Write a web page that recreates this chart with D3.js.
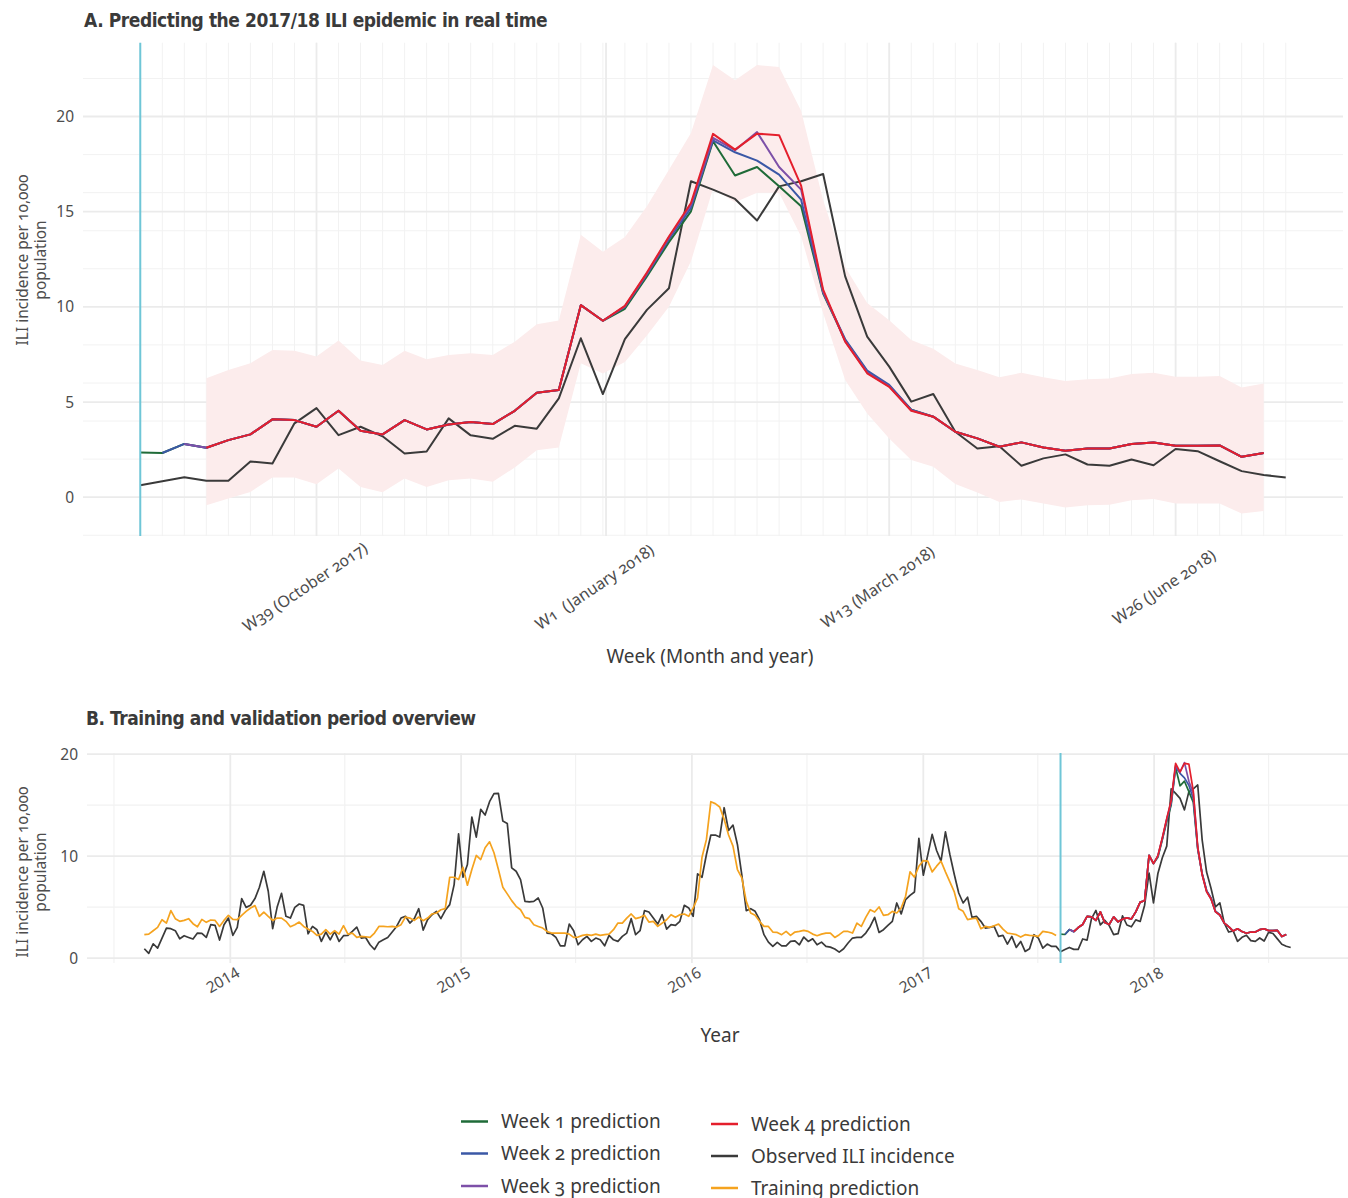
<!DOCTYPE html>
<html>
<head>
<meta charset="utf-8">
<script src="https://cdn.jsdelivr.net/npm/d3@7"></script>
<style>
  body { margin: 0; background: #fff; }
  svg text { font-family: "Noto Sans", "Open Sans", sans-serif; }
  .title { font-family: "Liberation Sans Narrow", "DejaVu Sans Condensed", sans-serif; font-weight: bold; font-size: 19px; letter-spacing: -0.45px; fill: #3a3a3a; }
  .onum { font-variant-numeric: oldstyle-nums; }
</style>
</head>
<body>
<svg id="chart" width="1348" height="1198"></svg>
<script>
// ---- Weekly ILI incidence per 10,000 population ----
const trainingStart = "2013-08-18";   // first week of the training period
const forecastOrigin = "2017-08-06";  // first week predicted in real time

// Observed incidence, training period (weekly from trainingStart)
const observedTraining = [
  0.92, 0.46, 1.41, 0.98, 1.97, 2.95, 2.89, 2.69, 1.90, 2.20,
  2.03, 1.87, 2.46, 2.43, 2.03, 3.28, 3.21, 1.77, 3.28, 3.93,
  2.23, 3.02, 5.84, 4.98, 5.18, 5.84, 6.95, 8.52, 6.56, 2.89,
  4.98, 6.36, 4.10, 3.93, 4.98, 5.31, 5.18, 2.39, 3.11, 2.79,
  1.64, 2.56, 1.80, 2.62, 1.64, 2.20, 2.23, 2.62, 3.05, 1.97,
  2.03, 1.31, 0.85, 1.57, 1.80, 2.03, 2.56, 3.11, 3.93, 4.10,
  3.44, 3.87, 4.85, 2.75, 3.77, 4.26, 4.59, 3.87, 4.69,
  5.25, 7.21, 12.20, 7.93, 9.18, 13.84, 11.87, 14.59, 14.03, 15.34,
  16.13, 16.16, 13.44, 13.21, 8.85, 8.52, 7.70, 5.57, 5.51, 5.57,
  5.90, 4.92, 2.46, 2.39, 2.03, 1.21, 1.21, 3.34, 2.69, 1.31,
  1.80, 2.13, 1.64, 1.97, 1.80, 1.21, 2.23, 1.80, 1.64, 2.13,
  2.46, 3.87, 2.30, 2.69, 4.66, 4.52, 3.93, 3.34, 4.26, 2.85,
  3.28, 3.21, 3.61, 5.18, 4.92, 4.10, 8.26, 7.93, 10.16, 12.07,
  12.07, 11.87, 14.75, 12.52, 13.05, 11.15, 8.13, 4.66, 4.85,
  4.59, 3.77, 2.30, 1.57, 1.15, 1.54, 1.21, 1.21, 1.64, 1.70,
  1.31, 2.07, 1.64, 1.90, 1.31, 1.57, 1.15, 1.08, 0.89, 0.59,
  0.92, 1.48, 1.97, 2.03, 2.03, 2.46, 3.11, 4.00, 2.52, 2.79,
  3.21, 3.61, 5.41, 4.33, 5.74, 6.16, 6.49, 11.74, 8.13, 10.10,
  12.13, 10.56, 9.51, 12.39, 10.16, 8.20, 6.39, 5.41, 5.97, 4.00,
  4.10, 3.61, 2.95, 3.02, 3.11, 2.13, 2.23, 1.38, 2.13, 1.05,
  1.64, 0.66, 0.92, 2.30, 1.97, 0.98, 1.38, 1.15, 1.15
];

// Model fit over the training period (weekly from trainingStart)
const trainingPrediction = [
  2.30, 2.36, 2.69, 3.02, 3.77, 3.44, 4.66, 3.87, 3.61, 3.70,
  3.87, 3.38, 3.08, 3.80, 3.51, 3.74, 3.70, 3.11, 3.70, 4.20,
  3.80, 3.77, 4.20, 4.59, 4.92, 5.15, 4.10, 4.52, 4.10, 3.70,
  3.93, 3.93, 3.61, 3.08, 3.28, 3.54, 3.11, 2.85, 2.62, 2.23,
  2.36, 2.79, 2.36, 2.69, 2.36, 3.18, 2.36, 2.46, 2.03, 2.13,
  2.10, 2.03, 2.46, 3.11, 3.11, 3.08, 3.11, 3.05, 3.28, 4.03,
  3.93, 3.70, 4.03, 3.67, 3.93, 4.33, 4.43, 4.75, 4.85,
  7.93, 7.93, 7.70, 8.92, 7.15, 8.69, 10.07, 9.67, 10.82, 11.41,
  10.33, 8.69, 6.95, 6.30, 5.64, 5.08, 4.75, 4.00, 3.87, 3.28,
  3.11, 2.95, 2.62, 2.46, 2.46, 2.46, 2.46, 2.36, 2.03, 2.07,
  2.23, 2.30, 2.23, 2.36, 2.23, 2.30, 2.36, 2.79, 3.44, 3.44,
  3.93, 4.33, 3.87, 4.00, 4.20, 3.54, 3.61, 3.11, 3.44, 3.77,
  4.26, 4.00, 4.26, 4.33, 4.10, 4.92, 5.90, 9.90, 11.64, 15.34,
  15.15, 14.82, 13.61, 12.07, 10.98, 8.69, 7.87, 5.57, 4.43,
  4.20, 3.61, 3.11, 3.11, 2.56, 2.52, 2.30, 2.62, 2.23, 2.56,
  2.62, 2.72, 2.62, 2.36, 2.20, 2.36, 2.46, 2.46, 2.03, 2.30,
  2.62, 2.62, 2.46, 3.44, 3.11, 4.00, 4.75, 4.52, 5.02, 4.20,
  4.26, 4.59, 4.43, 4.92, 6.07, 8.46, 7.93, 9.02, 9.57, 9.51,
  8.46, 9.02, 9.51, 8.46, 7.48, 6.49, 4.85, 4.59, 3.77, 3.87,
  3.93, 2.89, 3.11, 3.02, 3.18, 3.34, 2.85, 2.46, 2.39, 2.30,
  2.07, 2.30, 2.23, 2.20, 2.13, 2.62, 2.56, 2.46, 2.23
];

// Observed incidence, 2017/18 season (weekly from forecastOrigin)
const observedSeason = [
  0.63, 0.84, 1.05, 0.86, 0.86, 1.88, 1.77, 3.88, 4.68, 3.26,
  3.70, 3.20, 2.30, 2.40, 4.14, 3.25, 3.07, 3.75, 3.60, 5.19,
  8.35, 5.42, 8.30, 9.84, 10.98, 16.60, 16.16, 15.67, 14.54, 16.33,
  16.60, 16.98, 11.60, 8.44, 6.86, 5.02, 5.42, 3.44, 2.56, 2.68,
  1.65, 2.04, 2.25, 1.72, 1.65, 1.98, 1.68, 2.53, 2.42, 1.89,
  1.37, 1.17, 1.04
];

// Real-time predictions, 1 to 4 weeks ahead (weekly from forecastOrigin)
const week1Prediction = [
  2.35, 2.32, 2.80, 2.60, 3.00, 3.30, 4.09, 4.05, 3.70, 4.54,
  3.49, 3.30, 4.05, 3.56, 3.82, 3.95, 3.84, 4.54, 5.49, 5.63,
  10.09, 9.27, 9.90, 11.60, 13.40, 15.02, 18.70, 16.90, 17.35, 16.33,
  15.28, 10.70, 8.25, 6.60, 5.85, 4.60, 4.23, 3.44, 3.09, 2.65,
  2.88, 2.61, 2.44, 2.56, 2.56, 2.79, 2.88, 2.70, 2.70, 2.72,
  2.12, 2.32
];
const week2Prediction = [
  null, 2.32, 2.80, 2.60, 3.00, 3.30, 4.09, 4.05, 3.70, 4.54,
  3.49, 3.30, 4.05, 3.56, 3.82, 3.95, 3.84, 4.54, 5.49, 5.63,
  10.09, 9.27, 10.00, 11.70, 13.55, 15.20, 18.75, 18.12, 17.68, 16.95,
  15.63, 10.75, 8.30, 6.65, 5.90, 4.60, 4.23, 3.44, 3.09, 2.65,
  2.88, 2.61, 2.44, 2.56, 2.56, 2.79, 2.88, 2.70, 2.70, 2.72,
  2.12, 2.32
];
const week3Prediction = [
  null, null, 2.80, 2.60, 3.00, 3.30, 4.09, 4.05, 3.70, 4.54,
  3.49, 3.30, 4.05, 3.56, 3.82, 3.95, 3.84, 4.54, 5.49, 5.63,
  10.09, 9.27, 10.03, 11.75, 13.65, 15.35, 18.88, 18.23, 19.18, 17.35,
  16.16, 10.80, 8.20, 6.55, 5.82, 4.56, 4.23, 3.44, 3.09, 2.65,
  2.88, 2.61, 2.44, 2.56, 2.56, 2.79, 2.88, 2.70, 2.70, 2.72,
  2.12, 2.32
];
const week4Prediction = [
  null, null, null, 2.60, 3.00, 3.30, 4.09, 4.05, 3.70, 4.54,
  3.49, 3.30, 4.05, 3.56, 3.82, 3.95, 3.84, 4.54, 5.49, 5.63,
  10.09, 9.27, 10.05, 11.80, 13.70, 15.46, 19.09, 18.26, 19.10, 19.02,
  16.37, 10.90, 8.17, 6.51, 5.80, 4.54, 4.23, 3.44, 3.09, 2.65,
  2.88, 2.61, 2.44, 2.56, 2.56, 2.79, 2.88, 2.70, 2.70, 2.72,
  2.12, 2.32
];

// Prediction interval of the 4-week-ahead forecast
const intervalLower = [
  null, null, null, -0.42, -0.07, 0.28, 1.04, 1.04, 0.68, 1.51,
  0.54, 0.26, 0.98, 0.54, 0.89, 0.98, 0.81, 1.56, 2.47, 2.61,
  7.04, 6.50, 7.10, 8.50, 10.00, 12.40, 16.20, 15.50, 16.00, 16.00,
  13.70, 9.67, 6.16, 4.40, 3.09, 1.95, 1.60, 0.70, 0.25, -0.25,
  -0.12, -0.33, -0.54, -0.42, -0.40, -0.16, -0.10, -0.33, -0.33, -0.33,
  -0.86, -0.72
];
const intervalUpper = [
  null, null, null, 6.25, 6.68, 7.04, 7.74, 7.70, 7.39, 8.23,
  7.18, 6.95, 7.70, 7.25, 7.47, 7.56, 7.47, 8.17, 9.09, 9.28,
  13.79, 12.90, 13.67, 15.28, 17.20, 19.14, 22.70, 21.90, 22.70, 22.60,
  20.30, 15.60, 12.10, 10.20, 9.30, 8.26, 7.80, 7.02, 6.68, 6.30,
  6.54, 6.30, 6.10, 6.20, 6.23, 6.47, 6.54, 6.33, 6.33, 6.37,
  5.77, 5.98
];

// Axis breaks and labels
const seasonTickDates = ["2017-10-01", "2018-01-01", "2018-04-01", "2018-07-01"];
const seasonTickLabels = ["W39 (October 2017)", "W1  (January 2018)", "W13 (March 2018)", "W26 (June 2018)"];
const yearTickDates = ["2014-01-01", "2015-01-01", "2016-01-01", "2017-01-01", "2018-01-01"];
const yearMinorDates = ["2013-07-01", "2014-07-01", "2015-07-01", "2016-07-01", "2017-07-01", "2018-07-01"];

// Series names and colours
const seriesNames = ["Week 1 prediction", "Week 2 prediction", "Week 3 prediction",
                     "Week 4 prediction", "Observed ILI incidence", "Training prediction"];
const seriesColors = ["#1f6b38", "#3b58a6", "#7d50a8", "#e41f2c", "#3a3a3a", "#f5a31f"];

// ---------------------------------------------------------------------------
const parse = d3.utcParse("%Y-%m-%d");
const weekly = (start, n) => d3.range(n).map(i => d3.utcDay.offset(parse(start), 7 * i));
const pair = (dates, values) => values.map((v, i) => ({ date: dates[i], v }));
const expand = (lo, hi, f = 0.05) => [lo - (hi - lo) * f, hi + (hi - lo) * f];

const svg = d3.select("#chart");
const gridMajor = "#ebebeb", gridMinor = "#f2f2f2";
const cutColor = "#6fc6d7";
const labelColor = "#4d4d4d";

const seasonDates = weekly(forecastOrigin, observedSeason.length);
const trainingDates = weekly(trainingStart, observedTraining.length);

const predictions = [week1Prediction, week2Prediction, week3Prediction, week4Prediction];

// ============================ Panel A ============================
const A = { left: 83, right: 1343, top: 42.7, bottom: 536 };
const dA = d3.extent(seasonDates);
const xA = d3.scaleUtc().domain(expand(+dA[0], +dA[1])).range([A.left, A.right]);
const yA = d3.scaleLinear()
  .domain(expand(d3.min(intervalLower), d3.max(intervalUpper)))
  .range([A.bottom, A.top]);

const gA = svg.append("g");

// grid
const yAMajor = [0, 5, 10, 15, 20];
const yAMinor = d3.ticks(yA.domain()[0], yA.domain()[1], 10).filter(v => !yAMajor.includes(v));
gA.append("g").selectAll("line").data(yAMinor).join("line")
  .attr("x1", A.left).attr("x2", A.right)
  .attr("y1", d => yA(d)).attr("y2", d => yA(d))
  .attr("stroke", gridMinor).attr("stroke-width", 1);
gA.append("g").selectAll("line").data(seasonDates).join("line")
  .attr("x1", d => xA(d)).attr("x2", d => xA(d))
  .attr("y1", A.top).attr("y2", A.bottom)
  .attr("stroke", gridMinor).attr("stroke-width", 1);
gA.append("g").selectAll("line").data(yAMajor).join("line")
  .attr("x1", A.left).attr("x2", A.right)
  .attr("y1", d => yA(d)).attr("y2", d => yA(d))
  .attr("stroke", gridMajor).attr("stroke-width", 1.8);
gA.append("g").selectAll("line").data(seasonTickDates.map(parse)).join("line")
  .attr("x1", d => xA(d)).attr("x2", d => xA(d))
  .attr("y1", A.top).attr("y2", A.bottom)
  .attr("stroke", gridMajor).attr("stroke-width", 1.8);

// prediction interval
const band = seasonDates.map((d, i) => ({ date: d, lo: intervalLower[i], hi: intervalUpper[i] }));
gA.append("path").datum(band)
  .attr("fill", "#fcecec")
  .attr("d", d3.area().defined(d => d.lo != null && d.hi != null)
    .x(d => xA(d.date)).y0(d => yA(d.lo)).y1(d => yA(d.hi)));

const lineA = d3.line().defined(d => d.v != null).x(d => xA(d.date)).y(d => yA(d.v));

// observed
gA.append("path").datum(pair(seasonDates, observedSeason))
  .attr("fill", "none").attr("stroke", seriesColors[4]).attr("stroke-width", 2)
  .attr("stroke-linejoin", "round").attr("d", lineA);

// predictions 1..4 weeks ahead
predictions.forEach((p, k) => {
  gA.append("path").datum(pair(seasonDates, p))
    .attr("fill", "none").attr("stroke", seriesColors[k]).attr("stroke-width", 2)
    .attr("stroke-linejoin", "round").attr("d", lineA);
});

// start of real-time forecasting
gA.append("line")
  .attr("x1", xA(parse(forecastOrigin))).attr("x2", xA(parse(forecastOrigin)))
  .attr("y1", A.top).attr("y2", A.bottom)
  .attr("stroke", cutColor).attr("stroke-width", 2);

// axes
const axAy = gA.append("g").attr("transform", `translate(${A.left},0)`)
  .call(d3.axisLeft(yA).tickValues(yAMajor).tickSize(0).tickPadding(9));
axAy.select(".domain").remove();
axAy.selectAll("text").attr("font-size", 15.5).attr("fill", labelColor)
  .style("font-family", "'Noto Sans', sans-serif");

const axAx = gA.append("g").attr("transform", `translate(0,${A.bottom})`)
  .call(d3.axisBottom(xA).tickValues(seasonTickDates.map(parse))
    .tickFormat((d, i) => seasonTickLabels[i]).tickSize(0));
axAx.select(".domain").remove();
axAx.selectAll("text")
  .attr("class", "onum")
  .attr("y", 0).attr("dy", "0.35em")
  .attr("text-anchor", "middle")
  .attr("transform", "translate(-12,51) rotate(-34)")
  .attr("font-size", 16).attr("fill", labelColor)
  .style("white-space", "pre")
  .style("font-family", "'Noto Sans', sans-serif");

svg.append("text").attr("class", "title").attr("x", 84).attr("y", 27)
  .text("A. Predicting the 2017/18 ILI epidemic in real time");

svg.append("text").attr("x", 710).attr("y", 663).attr("text-anchor", "middle")
  .attr("font-size", 19).attr("fill", "#3a3a3a").text("Week (Month and year)");

function yTitle(cy) {
  const t = svg.append("text").attr("class", "onum")
    .attr("transform", `translate(0,${cy}) rotate(-90)`)
    .attr("text-anchor", "middle").attr("font-size", 15.5).attr("fill", labelColor);
  t.append("tspan").attr("x", 0).attr("y", 28).text("ILI incidence per 10,000");
  t.append("tspan").attr("x", 0).attr("y", 46).text("population");
}
yTitle(260);

// ============================ Panel B ============================
const B = { left: 87, right: 1348, top: 753, bottom: 963 };
const allDates = trainingDates.concat(seasonDates);
const observedAll = observedTraining.concat(observedSeason);
const dB = d3.extent(allDates);
const xB = d3.scaleUtc().domain(expand(+dB[0], +dB[1])).range([B.left, B.right]);
const allB = observedAll.concat(trainingPrediction, ...predictions).filter(v => v != null);
const yB = d3.scaleLinear().domain(expand(d3.min(allB), d3.max(allB))).range([B.bottom, B.top]);

const gB = svg.append("g");
const yBMajor = [0, 10, 20];
const yBMinor = [5, 15];
gB.append("g").selectAll("line").data(yBMinor).join("line")
  .attr("x1", B.left).attr("x2", B.right)
  .attr("y1", d => yB(d)).attr("y2", d => yB(d))
  .attr("stroke", gridMinor).attr("stroke-width", 1.2);
gB.append("g").selectAll("line").data(yearMinorDates.map(parse)).join("line")
  .attr("x1", d => xB(d)).attr("x2", d => xB(d))
  .attr("y1", B.top).attr("y2", B.bottom)
  .attr("stroke", gridMinor).attr("stroke-width", 1.2);
gB.append("g").selectAll("line").data(yBMajor).join("line")
  .attr("x1", B.left).attr("x2", B.right)
  .attr("y1", d => yB(d)).attr("y2", d => yB(d))
  .attr("stroke", gridMajor).attr("stroke-width", 1.8);
gB.append("g").selectAll("line").data(yearTickDates.map(parse)).join("line")
  .attr("x1", d => xB(d)).attr("x2", d => xB(d))
  .attr("y1", B.top).attr("y2", B.bottom)
  .attr("stroke", gridMajor).attr("stroke-width", 1.8);

const lineB = d3.line().defined(d => d.v != null).x(d => xB(d.date)).y(d => yB(d.v));

gB.append("path").datum(pair(allDates, observedAll))
  .attr("fill", "none").attr("stroke", seriesColors[4]).attr("stroke-width", 1.7)
  .attr("stroke-linejoin", "round").attr("d", lineB);
gB.append("path").datum(pair(trainingDates, trainingPrediction))
  .attr("fill", "none").attr("stroke", seriesColors[5]).attr("stroke-width", 1.7)
  .attr("stroke-linejoin", "round").attr("d", lineB);
predictions.forEach((p, k) => {
  gB.append("path").datum(pair(seasonDates, p))
    .attr("fill", "none").attr("stroke", seriesColors[k]).attr("stroke-width", 1.7)
    .attr("stroke-linejoin", "round").attr("d", lineB);
});

gB.append("line")
  .attr("x1", xB(parse(forecastOrigin))).attr("x2", xB(parse(forecastOrigin)))
  .attr("y1", B.top).attr("y2", B.bottom)
  .attr("stroke", cutColor).attr("stroke-width", 2);

const axBy = gB.append("g").attr("transform", `translate(${B.left},0)`)
  .call(d3.axisLeft(yB).tickValues(yBMajor).tickSize(0).tickPadding(9));
axBy.select(".domain").remove();
axBy.selectAll("text").attr("font-size", 15.5).attr("fill", labelColor)
  .style("font-family", "'Noto Sans', sans-serif");

const axBx = gB.append("g").attr("transform", `translate(0,${B.bottom})`)
  .call(d3.axisBottom(xB).tickValues(yearTickDates.map(parse))
    .tickFormat(d3.utcFormat("%Y")).tickSize(0));
axBx.select(".domain").remove();
axBx.selectAll("text")
  .attr("y", 0).attr("dy", "0.35em")
  .attr("text-anchor", "middle")
  .attr("transform", "translate(-8,17) rotate(-30)")
  .attr("font-size", 15.5).attr("fill", labelColor)
  .style("font-family", "'Noto Sans', sans-serif");

svg.append("text").attr("class", "title").attr("x", 86).attr("y", 725)
  .text("B. Training and validation period overview");
svg.append("text").attr("x", 720).attr("y", 1042).attr("text-anchor", "middle")
  .attr("font-size", 19).attr("fill", "#3a3a3a").text("Year");
yTitle(872);

// ============================ Legend ============================
const legendPos = [
  { kx: 461, tx: 501, y: 1121.5 }, { kx: 461, tx: 501, y: 1153.5 }, { kx: 461, tx: 501, y: 1186 },
  { kx: 711, tx: 751, y: 1124 }, { kx: 711, tx: 751, y: 1156 }, { kx: 711, tx: 751, y: 1188 }
];
const legend = svg.append("g").selectAll("g").data(seriesNames).join("g")
  .attr("transform", (d, i) => `translate(0,${legendPos[i].y})`);
legend.append("line")
  .attr("x1", (d, i) => legendPos[i].kx).attr("x2", (d, i) => legendPos[i].kx + 27)
  .attr("stroke", (d, i) => seriesColors[i]).attr("stroke-width", 2.5);
legend.append("text").attr("class", "onum")
  .attr("x", (d, i) => legendPos[i].tx).attr("dy", "0.35em")
  .attr("font-size", 19).attr("fill", "#3a3a3a").text(d => d);
</script>
</body>
</html>
